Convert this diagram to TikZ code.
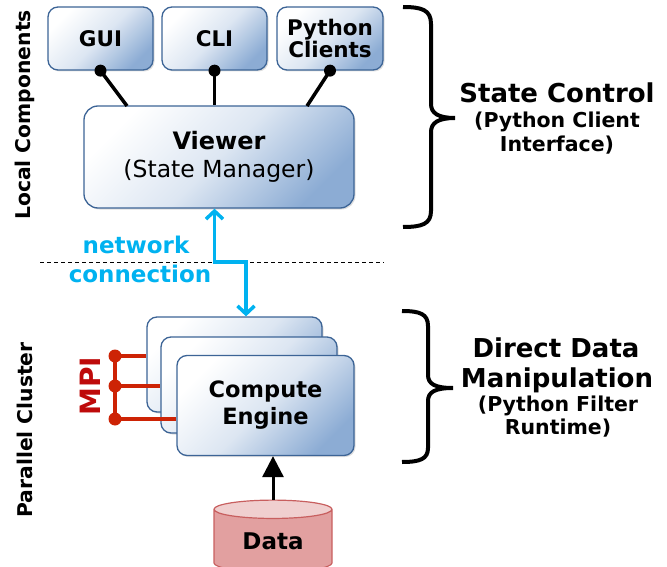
\documentclass[tikz,border=0pt]{standalone}
\usepackage{fontspec}
\setmainfont{DejaVu Sans}
\usetikzlibrary{shapes.geometric,arrows.meta,shadows}
\definecolor{boxline}{RGB}{60,100,150}
\definecolor{boxblue}{RGB}{140,172,212}
\definecolor{netblue}{RGB}{0,178,240}
\definecolor{mpired}{RGB}{205,35,5}
\definecolor{mpitext}{RGB}{190,10,10}
\definecolor{datafill}{RGB}{226,160,160}
\definecolor{dataline}{RGB}{200,95,95}
\begin{document}
\begin{tikzpicture}[x=1pt,y=-1pt]
	\tikzstyle{every node}+=[inner sep=0pt]
	\tikzstyle{box}=[draw=boxline, line width=1.3pt, rounded corners=10pt, shading=axis, top color=white, bottom color=boxblue, middle color=boxblue!30, shading angle=45, drop shadow={shadow xshift=1.5pt, shadow yshift=-1.5pt, opacity=0.25}, align=center, font=\bfseries\fontsize{21.5}{22}\selectfont]
	\tikzstyle{link}=[line width=3.5pt, black]
	\tikzstyle{mpi}=[line width=3.5pt, mpired]
	\tikzstyle{title}=[font=\bfseries\fontsize{26}{30}\selectfont, anchor=base]
	\tikzstyle{sub}=[font=\bfseries\fontsize{20.5}{24}\selectfont, anchor=base]
	\tikzstyle{side}=[font=\bfseries\fontsize{20.3}{24}\selectfont, rotate=90]
	\tikzstyle{brace}=[line width=4pt]
	\useasboundingbox (0,0) rectangle (667,567);
	\node[box, minimum width=105, minimum height=63] (gui) at (100.5,38.5) {GUI};
	\node[box, minimum width=105, minimum height=63] (cli) at (214.5,38.5) {CLI};
	\node[box, minimum width=106, minimum height=63] (py) at (330,38.5) {Python\\Clients};
	\node[box, minimum width=270, minimum height=102, rounded corners=14pt, font=\fontsize{23.5}{28}\selectfont] (viewer) at (219,157) {{\bfseries\fontsize{24}{28}\selectfont Viewer}\\(State Manager)};
	\coordinate (v1) at (127,106);
	\coordinate (v3) at (307,106);
	\draw[link] (gui.south) -- (v1);
	\draw[link] (cli.south) -- (cli.south |- viewer.north);
	\draw[link] (py.south) -- (v3);
	\fill (gui.south) circle (6);
	\fill (cli.south) circle (6);
	\fill (py.south) circle (6);
	\draw[dashed, dash pattern=on 4pt off 3pt, line width=1pt] (40,262) -- (384,262);
	\node[box, minimum width=175, minimum height=95] (back) at (234.5,364.5) {};
	\node[box, minimum width=176, minimum height=96] (mid) at (249,385) {};
	\node[box, minimum width=177, minimum height=100, font=\bfseries\fontsize{22.5}{27}\selectfont] (front) at (265.5,405.5) {Compute\\Engine};
	\coordinate (bend) at (246,262);
	\draw[line width=3.5pt, netblue, {Straight Barb[length=8pt,width=17pt]}-{Straight Barb[length=8pt,width=17pt]}] (cli.south |- viewer.south) -- (cli.south |- bend) -- (bend) -- (bend |- back.north);
	\node[font=\bfseries\fontsize{23}{26}\selectfont, text=netblue, anchor=base] (net1) at (136,253) {network};
	\node[font=\bfseries\fontsize{23}{26}\selectfont, text=netblue, anchor=base] (net2) at (140,282) {connection};
	\coordinate (m1) at (115,356);
	\coordinate (m2) at (115,386);
	\coordinate (m3) at (115,419);
	\draw[mpi] (m1) -- (m3);
	\draw[mpi] (m1) -- (m1 -| back.west);
	\draw[mpi] (m2) -- (m2 -| mid.west);
	\draw[mpi] (m3) -- (m3 -| front.west);
	\fill[mpired] (m1) circle (6.5);
	\fill[mpired] (m2) circle (6.5);
	\fill[mpired] (m3) circle (6.5);
	\node[font=\bfseries\fontsize{28}{30}\selectfont, text=mpitext, rotate=90] (mpi) at (90,386) {MPI};
	\node[cylinder, shape border rotate=90, aspect=0.3, draw=dataline, line width=1.2pt, cylinder uses custom fill, cylinder body fill=datafill, cylinder end fill=datafill!50, minimum width=118, minimum height=72, font=\bfseries\fontsize{23}{26}\selectfont] (data) at (273,541) {Data};
	\draw[line width=3pt, -{Triangle[length=21pt,width=21pt]}] (data.north) -- (data.north |- front.south);
	\node[side] (local) at (25,115) {Local Components};
	\node[side] (cluster) at (25,430) {Parallel Cluster};
	\draw[brace] (403,7) .. controls (422,7) and (431,10) .. (431,24) -- (431,104) .. controls (431,113) and (438,118) .. (455,118) .. controls (438,118) and (431,123) .. (431,132) -- (431,211) .. controls (431,224) and (422,227) .. (403,227);
	\draw[brace] (402,311) .. controls (420,311) and (428,314) .. (428,326) -- (428,375) .. controls (428,384) and (435,388) .. (453,388) .. controls (435,388) and (428,392) .. (428,401) -- (428,448) .. controls (428,459) and (420,462) .. (402,462);
	\node[title] (sc) at (557,103) {State Control};
	\node[sub] (sc1) at (557,128) {(Python Client};
	\node[sub] (sc2) at (557,152) {Interface)};
	\node[title] (dd1) at (556,357) {Direct Data};
	\node[title] (dd2) at (557,387) {Manipulation};
	\node[sub] (dd3) at (558,411) {(Python Filter};
	\node[sub] (dd4) at (558,434) {Runtime)};
\end{tikzpicture}
\end{document}
